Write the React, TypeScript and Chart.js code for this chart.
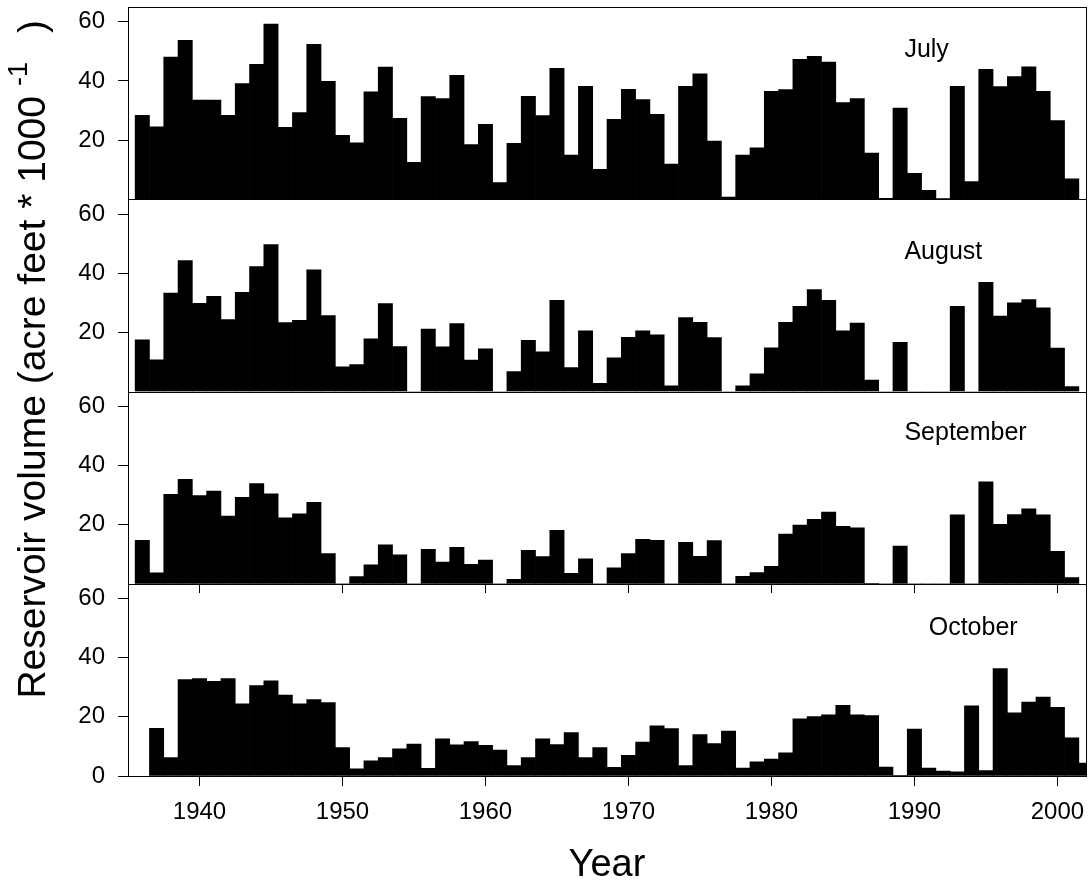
import React, { useEffect, useRef } from "react";
import { Chart, registerables } from "chart.js";

Chart.register(...registerables);

const FONT = "'Liberation Sans', Arial, Helvetica, sans-serif";

const YEARS = [
  1936, 1937, 1938, 1939, 1940, 1941, 1942, 1943, 1944, 1945,
  1946, 1947, 1948, 1949, 1950, 1951, 1952, 1953, 1954, 1955,
  1956, 1957, 1958, 1959, 1960, 1961, 1962, 1963, 1964, 1965,
  1966, 1967, 1968, 1969, 1970, 1971, 1972, 1973, 1974, 1975,
  1976, 1977, 1978, 1979, 1980, 1981, 1982, 1983, 1984, 1985,
  1986, 1987, 1988, 1989, 1990, 1991, 1992, 1993, 1994, 1995,
  1996, 1997, 1998, 1999, 2000, 2001, 2002,
];

const JULY = [
  28.4, 24.5, 48.1, 53.7, 33.5, 33.5, 28.4, 39.1, 45.6, 59.2,
  24.3, 29.3, 52.4, 39.9, 21.6, 19.1, 36.3, 44.7, 27.4, 12.5,
  34.7, 34.0, 41.9, 18.5, 25.3, 5.6, 18.9, 34.8, 28.3, 44.3,
  14.9, 38.2, 10.1, 27.0, 37.2, 33.7, 28.7, 11.9, 38.2, 42.4,
  19.7, 0.7, 14.9, 17.4, 36.5, 37.1, 47.3, 48.3, 46.4, 32.7,
  34.0, 15.6, 0.3, 30.8, 8.8, 3.0, 0.2, 38.2, 6.0, 43.9,
  38.1, 41.5, 44.8, 36.5, 26.6, 6.9, null,
];

const AUGUST = [
  17.5, 10.7, 33.3, 44.3, 29.8, 32.2, 24.3, 33.5, 42.2, 49.7,
  23.3, 24.1, 41.1, 25.7, 8.3, 9.1, 17.8, 29.7, 15.2, 0,
  21.1, 15.1, 23.0, 10.6, 14.4, 0, 6.7, 17.3, 13.4, 30.8,
  8.1, 20.5, 2.8, 11.4, 18.3, 20.5, 19.2, 1.9, 25.0, 23.4,
  18.2, 0, 1.9, 6.0, 14.8, 23.4, 28.8, 34.5, 30.8, 20.5,
  23.1, 3.9, 0, 16.6, 0, 0, 0, 28.8, 0, 36.9,
  25.5, 30.0, 31.1, 28.3, 14.7, 1.7, null,
];

const SEPTEMBER = [
  14.7, 3.7, 30.2, 35.3, 29.8, 31.3, 22.9, 29.2, 33.9, 30.4,
  22.3, 23.6, 27.5, 10.2, 0, 2.4, 6.4, 13.2, 9.8, 0,
  11.6, 7.3, 12.3, 6.6, 8.0, 0, 1.5, 11.3, 9.2, 18.1,
  3.5, 8.4, 0, 5.4, 10.2, 15.0, 14.7, 0, 14.0, 9.3,
  14.6, 0, 2.5, 3.8, 5.9, 16.8, 19.8, 21.8, 24.2, 19.4,
  18.9, 0.1, 0, 12.7, 0, 0, 0, 23.3, 0, 34.5,
  20.1, 23.4, 25.3, 23.3, 11.0, 2.1, null,
];

const OCTOBER = [
  null, 16.1, 6.2, 32.6, 32.9, 32.0, 32.9, 24.4, 30.6, 32.2,
  27.4, 24.4, 25.8, 24.8, 9.6, 2.4, 5.1, 6.2, 9.2, 10.8,
  2.6, 12.6, 10.5, 11.6, 10.4, 8.8, 3.5, 6.2, 12.6, 10.6,
  14.7, 6.2, 9.6, 2.9, 7.0, 11.5, 17.0, 16.0, 3.5, 14.0,
  11.0, 15.2, 2.7, 4.8, 5.7, 7.8, 19.3, 20.1, 20.7, 23.9,
  20.7, 20.4, 3.0, 0.2, 15.9, 2.7, 1.7, 1.4, 23.7, 1.8,
  36.3, 21.4, 25.0, 26.7, 23.2, 12.9, 4.4,
];

const MONTHS = ["July", "August", "September", "October"];
const SERIES = [JULY, AUGUST, SEPTEMBER, OCTOBER];
const PANEL_IDS = ["y1", "y2", "y3", "y4"];

const X_TICKS = [1940, 1950, 1960, 1970, 1980, 1990, 2000];
const Y_TICKS = [0, 20, 40, 60];

// month label anchors in data units (left edge year, baseline value)
const LABEL_X = [1989.3, 1989.3, 1989.3, 1991.0];
const LABEL_Y = [48.1, 44.8, 48.7, 47.7];

const Y_TITLE = "Reservoir volume (acre feet * 1000";
const Y_TITLE_SUP = "-1";
const Y_TITLE_TAIL = ")";
const X_TITLE = "Year";

const panelPlugin = {
  id: "panels",
  afterDatasetsDraw(chart: any) {
    const { ctx, chartArea, scales } = chart;
    const xs = scales.x;
    ctx.save();
    ctx.strokeStyle = "#000";
    ctx.lineWidth = 1;
    PANEL_IDS.forEach((id, i) => {
      const s = scales[id];
      const left = Math.round(chartArea.left) + 0.5;
      const top = Math.round(s.top) + 0.5;
      const w = Math.round(chartArea.right) - Math.round(chartArea.left);
      const h = Math.round(s.bottom) - Math.round(s.top);
      ctx.strokeRect(left, top, w, h);
      ctx.fillStyle = "#000";
      ctx.font = `25px ${FONT}`;
      ctx.textAlign = "left";
      ctx.textBaseline = "alphabetic";
      ctx.fillText(MONTHS[i], xs.getPixelForValue(LABEL_X[i]), s.getPixelForValue(LABEL_Y[i]));
    });
    // inward x ticks at the top of the bottom panel
    const last = scales[PANEL_IDS[3]];
    ctx.beginPath();
    X_TICKS.forEach((v) => {
      const px = Math.round(xs.getPixelForValue(v)) + 0.5;
      ctx.moveTo(px, Math.round(last.top));
      ctx.lineTo(px, Math.round(last.top) + 9);
    });
    ctx.stroke();

    // y axis title with superscript
    ctx.fillStyle = "#000";
    ctx.font = `39px ${FONT}`;
    const w1 = ctx.measureText(Y_TITLE).width;
    const w3 = ctx.measureText(Y_TITLE_TAIL).width;
    const tailLen = 76; // distance from end of "1000" to end of ")"
    const supGap = 10;
    ctx.translate(45, 20 + w1 + tailLen);
    ctx.rotate(-Math.PI / 2);
    ctx.textAlign = "left";
    ctx.textBaseline = "alphabetic";
    ctx.fillText(Y_TITLE, 0, 0);
    ctx.fillText(Y_TITLE_TAIL, w1 + tailLen - w3, 0);
    ctx.font = `27px ${FONT}`;
    ctx.fillText(Y_TITLE_SUP, w1 + supGap, -18);
    ctx.restore();
  },
};

function zeroPadding(scale: any) {
  scale.paddingTop = 0;
  scale.paddingBottom = 0;
  scale.paddingLeft = 0;
  scale.paddingRight = 0;
}

function makeYScale(isBottom: boolean) {
  return {
    type: "linear",
    position: "left",
    stack: "panels",
    stackWeight: 1,
    min: 0,
    max: 65,
    border: { display: false },
    grid: {
      display: true,
      drawOnChartArea: false,
      drawTicks: true,
      tickLength: 10,
      tickColor: "#000",
      tickWidth: 1,
    },
    ticks: {
      color: "#000",
      font: { family: FONT, size: 24 },
      padding: 13,
      includeBounds: false,
      stepSize: 20,
      callback: (v: any) => String(v),
    },
    afterBuildTicks: (scale: any) => {
      scale.ticks = Y_TICKS.filter((t) => isBottom || t !== 0).map((t) => ({ value: t }));
    },
    afterFit: (scale: any) => {
      scale.width = 128;
      zeroPadding(scale);
    },
  };
}

export default function App() {
  const canvasRef = useRef<HTMLCanvasElement | null>(null);

  useEffect(() => {
    const canvas = canvasRef.current;
    if (!canvas) return;
    const datasets = SERIES.map((vals, i) => ({
      label: MONTHS[i],
      data: YEARS.map((yr, j) => ({ x: yr, y: vals[j] })),
      xAxisID: "x",
      yAxisID: PANEL_IDS[i],
      backgroundColor: "#000",
      borderWidth: 0,
      barPercentage: 1,
      categoryPercentage: 1,
      grouped: false,
    }));

    const scales: any = {
      x: {
        type: "linear",
        position: "bottom",
        min: 1935,
        max: 2002,
        offset: false,
        border: { display: false },
        grid: {
          display: true,
          offset: false,
          drawOnChartArea: false,
          drawTicks: true,
          tickLength: 10,
          tickColor: "#000",
          tickWidth: 1,
        },
        ticks: {
          color: "#000",
          font: { family: FONT, size: 24 },
          padding: 12,
          maxRotation: 0,
          autoSkip: false,
          callback: (v: any) => String(v),
        },
        afterBuildTicks: (scale: any) => {
          scale.ticks = X_TICKS.map((t) => ({ value: t }));
        },
        title: {
          display: true,
          text: X_TITLE,
          color: "#000",
          font: { family: FONT, size: 38 },
          padding: { top: 0, bottom: 4 },
        },
        afterFit: (scale: any) => {
          scale.height = 116;
          zeroPadding(scale);
        },
      },
    };
    // left stacked axes are laid out in reverse order: bottom panel first
    for (let i = PANEL_IDS.length - 1; i >= 0; i--) {
      scales[PANEL_IDS[i]] = makeYScale(i === PANEL_IDS.length - 1);
    }

    const chart = new Chart(canvas, {
      type: "bar",
      data: { datasets: datasets as any },
      options: {
        responsive: false,
        animation: false,
        devicePixelRatio: 1,
        layout: { padding: { top: 7, right: 6, left: 0, bottom: 0 } },
        plugins: {
          legend: { display: false },
          tooltip: { enabled: false },
          title: { display: false },
        },
        scales,
      } as any,
      plugins: [panelPlugin],
    });
    return () => chart.destroy();
  }, []);

  return (
    <div style={{ position: "absolute", left: 0, top: 0, width: 1092, height: 892, background: "#fff" }}>
      <canvas ref={canvasRef} width={1092} height={892} style={{ display: "block" }} />
    </div>
  );
}
